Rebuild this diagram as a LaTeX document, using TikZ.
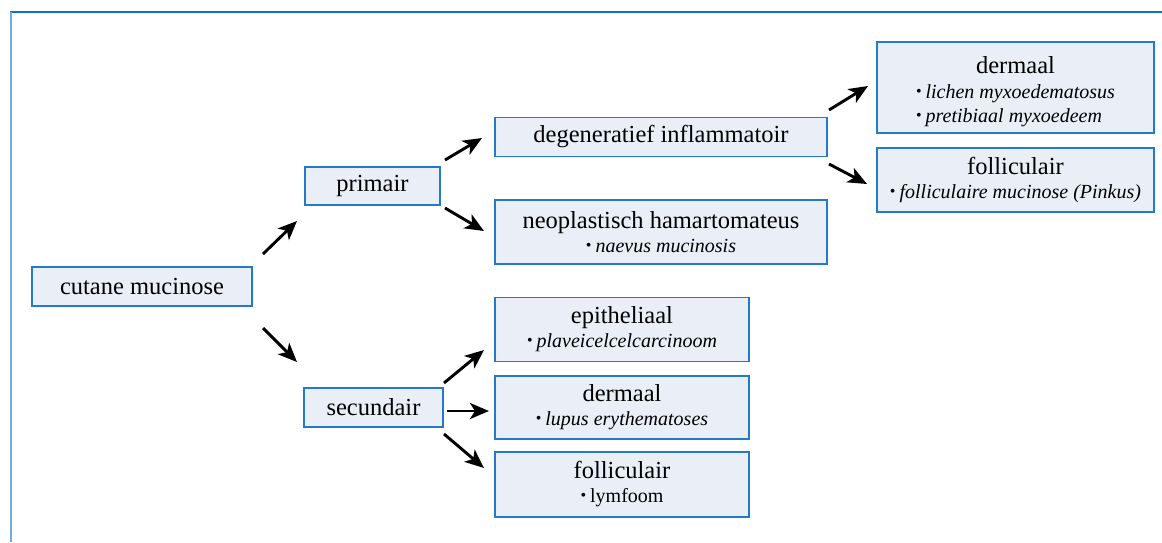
\documentclass[tikz,border=0pt]{standalone}
\usepackage{fontspec}
\setmainfont{Liberation Serif}
\usetikzlibrary{calc,arrows.meta}
\definecolor{boxfill}{RGB}{233,238,247}
\definecolor{boxline}{RGB}{36,122,200}
\definecolor{frametop}{RGB}{16,114,196}
\definecolor{frameleft}{RGB}{110,174,224}
\newcommand\bul{{\fontsize{16}{16}\selectfont\raisebox{2pt}{\textbullet}}\hspace{4pt}}
\newcommand\ttl[1]{{\fontsize{24.5}{24}\selectfont #1}}
\begin{document}
\begin{tikzpicture}[x=1pt,y=-1pt,
  box/.style={draw=boxline,line width=1.3pt,fill=boxfill,inner sep=0pt,align=center,
    font=\fontsize{20}{24}\selectfont},
  arr/.style={line width=2.9pt,-{Stealth[length=19pt,width=16pt,inset=5pt]}}]
\useasboundingbox (0,0) rectangle (1162,542);
\fill[white] (0,0) rectangle (1162,542);
\draw[frametop,line width=2pt] (10,12) -- (1162,12);
\draw[frameleft,line width=2pt] (10.5,12) -- (10.5,542);

\node[box,minimum width=220pt,minimum height=39pt] (cut) at (142,286.5) {\ttl{cutane mucinose}};
\node[box,minimum width=135pt,minimum height=38pt] (prim) at (372.5,186) {\ttl{primair}};
\node[box,minimum width=139pt,minimum height=39pt] (sec) at (373.5,407.5) {\ttl{secundair}};
\node[box,minimum width=332pt,minimum height=39pt] (degen) at (661,137) {\ttl{degeneratief inflammatoir}};
\node[box,minimum width=332pt,minimum height=64pt] (neo) at (661,232) {\ttl{neoplastisch hamartomateus}\\ \bul\textit{naevus mucinosis}};
\node[box,minimum width=254pt,minimum height=64pt] (epi) at (622,329.5) {\ttl{epitheliaal}\\ \bul\textit{plaveicelcelcarcinoom}};
\node[box,minimum width=254pt,minimum height=63pt] (dermb) at (622,407.5) {\ttl{dermaal}\\ \bul\textit{lupus erythematoses}};
\node[box,minimum width=254pt,minimum height=65pt] (follb) at (622,484.5) {\ttl{folliculair}\\ \bul lymfoom};
\node[box,minimum width=277pt,minimum height=91pt] (derma) at (1015.5,87.5) {\rule{0pt}{25pt}\ttl{dermaal}\\[1pt] \bul\textit{lichen myxoedematosus}\\ \makebox[0pt][l]{\bul\textit{pretibiaal myxoedeem}}\phantom{\bul\textit{lichen myxoedematosus}}};
\node[box,minimum width=277pt,minimum height=64pt] (folla) at (1015.5,180) {\ttl{folliculair}\\ \bul\textit{folliculaire mucinose (Pinkus)}};

\draw[arr] ($(cut)+(121,-32.5)$) -- ($(prim)+(-75.5,35)$);
\draw[arr] ($(cut)+(121,41.5)$) -- ($(sec)+(-76.5,-45.5)$);
\draw[arr] ($(prim)+(72.5,-26)$) -- ($(degen)+(-179,1)$);
\draw[arr] ($(prim)+(72.5,22)$) -- ($(neo)+(-177,-1)$);
\draw[arr] ($(sec)+(70.5,-24.5)$) -- ($(epi)+(-138,20.5)$);
\draw[arr] ($(sec)+(73.5,3.5)$) -- ($(dermb)+(-133,3.5)$);
\draw[arr] ($(sec)+(70.5,26.5)$) -- ($(follb)+(-138,-16.5)$);
\draw[arr] ($(degen)+(168,-27)$) -- ($(derma)+(-147.5,-1.5)$);
\draw[arr] ($(degen)+(168,27)$) -- ($(folla)+(-148.5,4)$);
\end{tikzpicture}
\end{document}
